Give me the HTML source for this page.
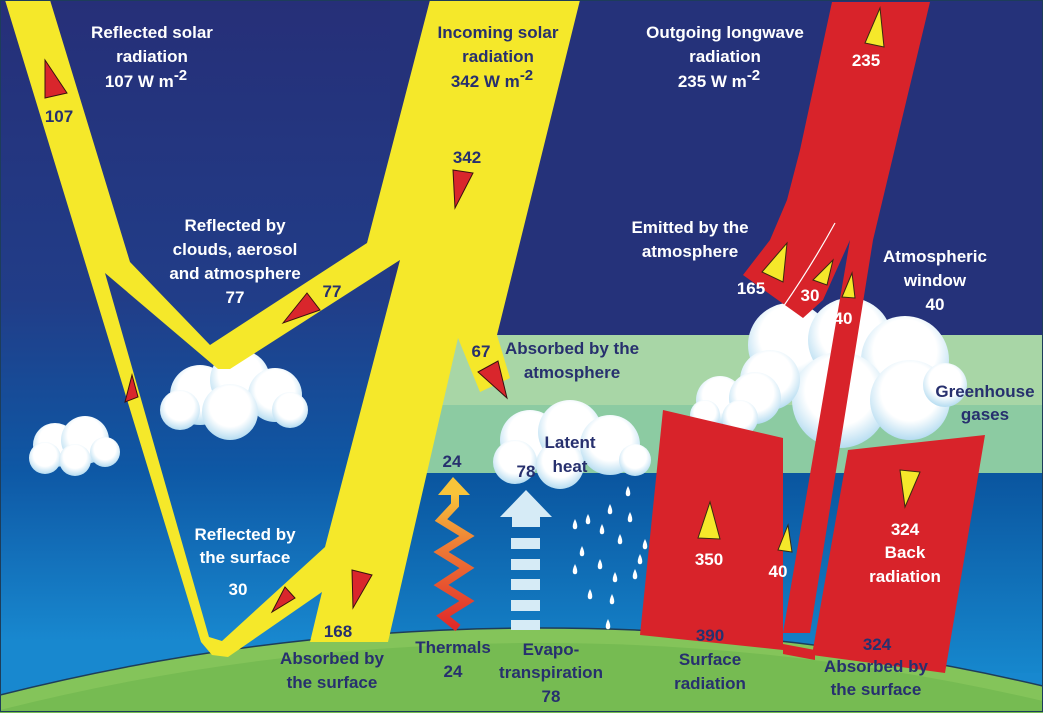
<!DOCTYPE html>
<html><head><meta charset="utf-8"><style>
html,body{margin:0;padding:0;background:#fff;width:1043px;height:713px;overflow:hidden}
svg{display:block}
text{font-family:"Liberation Sans",Arial,sans-serif;font-weight:bold;font-size:17px;text-anchor:middle}
.w{fill:#fff}.n{fill:#27306e}
</style></head><body>
<svg width="1043" height="713" viewBox="0 0 1043 713" xmlns="http://www.w3.org/2000/svg">
<defs>
<linearGradient id="bg" x1="0" y1="0" x2="0" y2="1">
<stop offset="0" stop-color="#262f78"/><stop offset="0.42" stop-color="#213d88"/>
<stop offset="0.66" stop-color="#0e58a5"/><stop offset="0.9" stop-color="#1888cf"/></linearGradient>
<linearGradient id="oc" x1="0" y1="0" x2="0" y2="1">
<stop offset="0" stop-color="#0a559f"/><stop offset="1" stop-color="#1687cd"/></linearGradient>
<linearGradient id="th" x1="0" y1="1" x2="0" y2="0">
<stop offset="0" stop-color="#e02a2a"/><stop offset="0.6" stop-color="#ee7a35"/><stop offset="1" stop-color="#f8c43a"/></linearGradient>
<radialGradient id="cl" cx="0.5" cy="0.4" r="0.6">
<stop offset="0.6" stop-color="#ffffff"/><stop offset="1" stop-color="#b5dcf1"/></radialGradient>
<g id="drop"><path d="M0,-6 Q3,0 2,3 A2.2,2.2 0 0 1 -2,3 Q-3,0 0,-6Z" fill="#fff"/></g>
</defs>
<rect width="1043" height="713" fill="url(#bg)"/>
<rect x="390" y="0" width="653" height="335" fill="#25327a"/>
<rect x="390" y="335" width="653" height="70" fill="#a8d6a6"/>
<rect x="390" y="405" width="653" height="68" fill="#8ccba2"/>
<rect x="390" y="473" width="653" height="200" fill="url(#oc)"/>
<path d="M0,713 L0,695 A2209,2209 0 0 1 1043,686 L1043,713 Z" fill="#84c45a" stroke="#1d3d5a" stroke-width="1.5"/>
<path d="M0,713 L0,710 A2209,2209 0 0 1 1043,701 L1043,713 Z" fill="#76bb52"/>
<g fill="url(#cl)">
<g><circle cx="200" cy="395" r="30"/><circle cx="240" cy="380" r="30"/><circle cx="275" cy="395" r="27"/><circle cx="230" cy="412" r="28"/><circle cx="180" cy="410" r="20"/><circle cx="290" cy="410" r="18"/></g>
<g><circle cx="55" cy="445" r="22"/><circle cx="85" cy="440" r="24"/><circle cx="105" cy="452" r="15"/><circle cx="45" cy="458" r="16"/><circle cx="75" cy="460" r="16"/></g>
<g><circle cx="530" cy="440" r="30"/><circle cx="570" cy="432" r="32"/><circle cx="610" cy="445" r="30"/><circle cx="560" cy="465" r="24"/><circle cx="515" cy="462" r="22"/><circle cx="635" cy="460" r="16"/></g>
<g><circle cx="790" cy="345" r="42"/><circle cx="850" cy="340" r="42"/><circle cx="905" cy="360" r="44"/><circle cx="840" cy="400" r="48"/><circle cx="910" cy="400" r="40"/><circle cx="945" cy="385" r="22"/><circle cx="770" cy="380" r="30"/></g>
<g><circle cx="720" cy="400" r="24"/><circle cx="755" cy="398" r="26"/><circle cx="740" cy="418" r="18"/><circle cx="705" cy="415" r="15"/></g>
</g>
<path fill="#f5e82a" fill-rule="evenodd" d="M5,0 L50,0 L130,262 L210,345 L367,243 L430,0 L580,0 L497,335 L510,378 L480,392 L458,338 L388,642 L310,642 L322,592 L228,657 L212,655 L201,642 Z M105,273 L218,369 L230,369 L400,260 L325,547 L222,641 L209,637 Z"/>
<g fill="#d9262c" stroke="#3a1010" stroke-width="1">
<polygon points="45,60 45,98 67,93"/><polygon points="453,170 473,173 455,208"/>
<polygon points="283,323 307,293 320,310"/><polygon points="478,372 498,361 507,398"/>
<polygon points="125,402 132,375 138,397"/><polygon points="272,612 285,587 295,598"/>
<polygon points="352,570 372,575 353,608"/></g>
<g fill="#d8232a">
<polygon points="832,2 930,2 873,240 810,633 783,633 850,240 823,300 803,318 743,275 770,240 787,200 800,150"/>
<polygon points="663,410 783,438 783,650 640,635"/>
<polygon points="848,450 985,435 945,673 812,655"/>
<polygon points="783,644 815,650 815,660 783,654"/>
</g>
<path d="M835,223 Q812,265 783,307" stroke="#fff" stroke-width="1.2" fill="none"/>
<g fill="#f5e82a" stroke="#3a2a10" stroke-width="1">
<polygon points="880,8 865,43 884,47"/><polygon points="762,272 787,243 783,282"/>
<polygon points="813,280 833,260 827,285"/><polygon points="842,297 852,273 855,298"/>
<polygon points="698,538 710,502 720,539"/><polygon points="778,550 788,525 792,552"/>
<polygon points="900,470 920,472 905,507"/></g>
<polyline points="455,494 455,505 441,520 467,536 441,552 467,568 441,585 467,601 443,616 458,628" fill="none" stroke="url(#th)" stroke-width="8"/>
<polygon points="453,477 438,495 470,495" fill="#f8c43a"/>
<g fill="#d6ebf6"><polygon points="526,490 500,517 552,517"/><rect x="512" y="517" width="28" height="10"/>
<rect x="511" y="538" width="29" height="11"/><rect x="511" y="559" width="29" height="11"/><rect x="511" y="579" width="29" height="11"/><rect x="511" y="600" width="29" height="11"/><rect x="511" y="620" width="29" height="10"/></g>
<g>
<use href="#drop" x="628" y="492"/><use href="#drop" x="588" y="520"/><use href="#drop" x="610" y="510"/><use href="#drop" x="630" y="518"/><use href="#drop" x="575" y="525"/>
<use href="#drop" x="602" y="530"/><use href="#drop" x="620" y="540"/><use href="#drop" x="645" y="545"/><use href="#drop" x="582" y="552"/><use href="#drop" x="600" y="565"/>
<use href="#drop" x="640" y="560"/><use href="#drop" x="575" y="570"/><use href="#drop" x="615" y="578"/><use href="#drop" x="635" y="575"/><use href="#drop" x="590" y="595"/>
<use href="#drop" x="612" y="600"/><use href="#drop" x="608" y="625"/></g>
<text class="w" x="152" y="38">Reflected solar</text><text class="w" x="152" y="62">radiation</text>
<text class="w" x="146" y="87">107 W m<tspan dy="-7" font-size="15" font-weight="bold">-2</tspan></text>
<text class="n" x="498" y="38">Incoming solar</text><text class="n" x="498" y="62">radiation</text>
<text class="n" x="492" y="87">342 W m<tspan dy="-7" font-size="15" font-weight="bold">-2</tspan></text>
<text class="w" x="725" y="38">Outgoing longwave</text><text class="w" x="725" y="62">radiation</text>
<text class="w" x="719" y="87">235 W m<tspan dy="-7" font-size="15" font-weight="bold">-2</tspan></text>
<text class="w" x="866" y="66">235</text>
<text class="n" x="59" y="122">107</text><text class="n" x="467" y="163">342</text>
<text class="w" x="235" y="231">Reflected by</text><text class="w" x="235" y="255">clouds, aerosol</text>
<text class="w" x="235" y="279">and atmosphere</text><text class="w" x="235" y="303">77</text>
<text class="n" x="332" y="297">77</text>
<text class="n" x="481" y="357">67</text>
<text class="n" x="572" y="354">Absorbed by the</text><text class="n" x="572" y="378">atmosphere</text>
<text class="w" x="690" y="233">Emitted by the</text><text class="w" x="690" y="257">atmosphere</text>
<text class="w" x="751" y="294">165</text><text class="w" x="810" y="301">30</text><text class="w" x="843" y="324">40</text>
<text class="w" x="935" y="262">Atmospheric</text><text class="w" x="935" y="286">window</text><text class="w" x="935" y="310">40</text>
<text class="n" x="985" y="397">Greenhouse</text><text class="n" x="985" y="420">gases</text>
<text class="n" x="570" y="448">Latent</text><text class="n" x="570" y="472">heat</text>
<text class="n" x="526" y="477">78</text><text class="n" x="452" y="467">24</text>
<text class="w" x="245" y="540">Reflected by</text><text class="w" x="245" y="563">the surface</text><text class="w" x="238" y="595">30</text>
<text class="n" x="338" y="637">168</text>
<text class="n" x="332" y="664">Absorbed by</text><text class="n" x="332" y="688">the surface</text>
<text class="n" x="453" y="653">Thermals</text><text class="n" x="453" y="677">24</text>
<text class="n" x="551" y="655">Evapo-</text><text class="n" x="551" y="678">transpiration</text><text class="n" x="551" y="702">78</text>
<text class="w" x="709" y="565">350</text><text class="w" x="778" y="577">40</text>
<text class="w" x="905" y="535">324</text><text class="w" x="905" y="558">Back</text><text class="w" x="905" y="582">radiation</text>
<text class="n" x="710" y="641">390</text><text class="n" x="710" y="665">Surface</text><text class="n" x="710" y="689">radiation</text>
<text class="n" x="877" y="650">324</text>
<text class="n" x="876" y="672">Absorbed by</text><text class="n" x="876" y="695">the surface</text>
<rect x="0.5" y="0.5" width="1042" height="711" fill="none" stroke="#1d3d5a" stroke-width="1"/>
</svg>
</body></html>
